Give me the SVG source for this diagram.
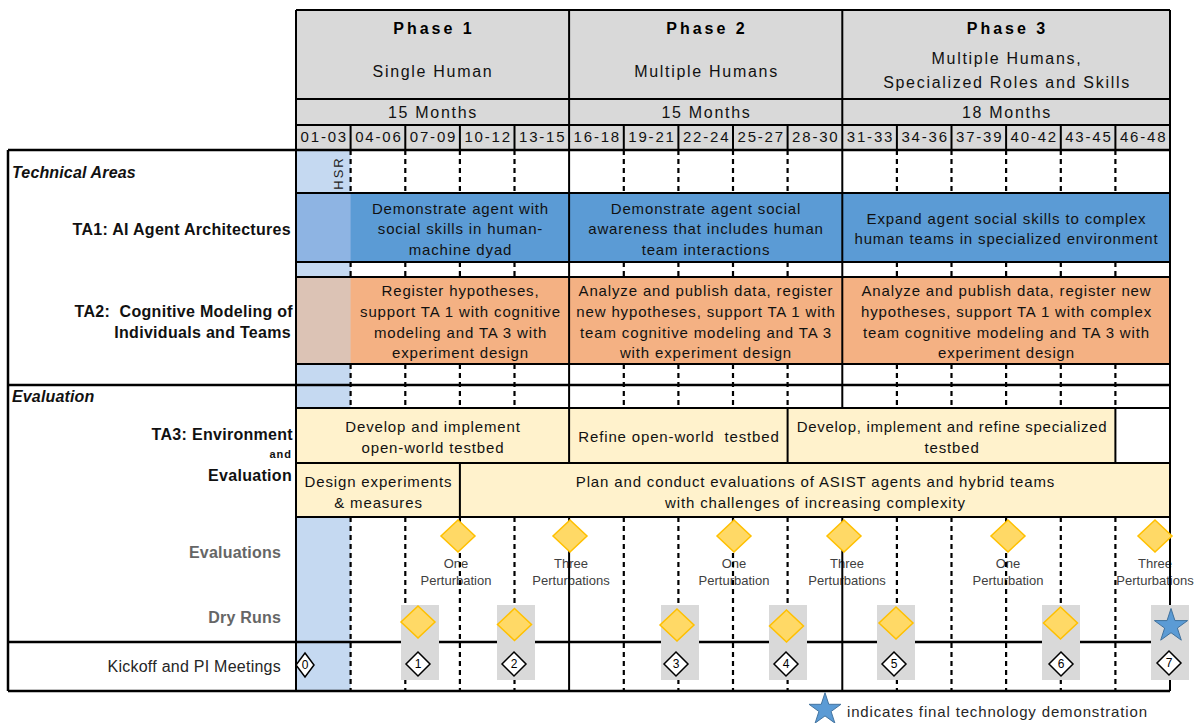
<svg xmlns="http://www.w3.org/2000/svg" width="1203" height="723" viewBox="0 0 1203 723">
<style>
text{font-family:"Liberation Sans",Arial,sans-serif}
.b{font-size:15px;letter-spacing:0.85px;fill:#111;text-anchor:middle}
.ph{font-size:16px;font-weight:bold;letter-spacing:3px;text-anchor:middle;fill:#000}
.sub{font-size:16px;letter-spacing:1.7px;text-anchor:middle;fill:#111}
.per{font-size:15px;letter-spacing:1.8px;text-anchor:middle;fill:#111}
.lab{font-size:16px;font-weight:bold;letter-spacing:0.3px;text-anchor:end;fill:#111}
.sec{font-size:16px;font-weight:bold;font-style:italic;letter-spacing:0.15px;fill:#111}
.gl{font-size:16px;font-weight:bold;letter-spacing:0.2px;text-anchor:end;fill:#666}
.pt{font-size:13px;text-anchor:middle;fill:#404040}
.num{font-size:12px;text-anchor:middle;fill:#000}
.ln{fill:none;stroke:#000;stroke-width:2}
.ds{fill:none;stroke:#000;stroke-width:2.2;stroke-dasharray:5 4}
.lb{fill:#C5D9F1}
.cr{fill:#FFF2CC}
.gr{fill:#D9D9D9}
</style>
<defs>
<polygon id="yd" points="0,-16 17,0 0,16 -17,0" fill="#FFD966" stroke="#FFC000" stroke-width="1.5"/>
<polygon id="wd" points="0,-12 12,0 0,12 -12,0" fill="#fff" stroke="#000" stroke-width="1.5"/>
<polygon id="star" points="0,-17.5 3.93,-5.41 16.64,-5.41 6.36,2.07 10.29,14.16 0,6.69 -10.29,14.16 -6.36,2.07 -16.64,-5.41 -3.93,-5.41" fill="#5B9BD5" stroke="#41719C" stroke-width="1"/>
</defs>
<rect width="1203" height="723" fill="#fff"/>

<g id="header">
<rect class="gr" x="296" y="10" width="874" height="140"/>
<text class="ph" x="434" y="34">Phase 1</text>
<text class="ph" x="707" y="34">Phase 2</text>
<text class="ph" x="1007.5" y="34">Phase 3</text>
<text class="sub" x="433" y="77">Single Human</text>
<text class="sub" x="706.5" y="77">Multiple Humans</text>
<text class="sub" x="1007" y="64">Multiple Humans,</text>
<text class="sub" x="1007" y="88">Specialized Roles and Skills</text>
<text class="sub" x="433" y="118">15 Months</text>
<text class="sub" x="706.5" y="118">15 Months</text>
<text class="sub" x="1007" y="118">18 Months</text>
<text class="per" x="324.3" y="142">01-03</text>
<text class="per" x="378.9" y="142">04-06</text>
<text class="per" x="433.5" y="142">07-09</text>
<text class="per" x="488.1" y="142">10-12</text>
<text class="per" x="542.7" y="142">13-15</text>
<text class="per" x="597.3" y="142">16-18</text>
<text class="per" x="652" y="142">19-21</text>
<text class="per" x="706.6" y="142">22-24</text>
<text class="per" x="761.2" y="142">25-27</text>
<text class="per" x="815.8" y="142">28-30</text>
<text class="per" x="870.5" y="142">31-33</text>
<text class="per" x="925.1" y="142">34-36</text>
<text class="per" x="979.7" y="142">37-39</text>
<text class="per" x="1034.3" y="142">40-42</text>
<text class="per" x="1088.9" y="142">43-45</text>
<text class="per" x="1143.6" y="142">46-48</text>
</g>

<g id="light-blue-column">
<rect class="lb" x="296" y="150" width="54.6" height="43"/>
<rect class="lb" x="296" y="262" width="54.6" height="15"/>
<rect class="lb" x="296" y="364" width="54.6" height="44"/>
<rect class="lb" x="296" y="517" width="54.6" height="174"/>
<text x="343" y="173" transform="rotate(-90 343 173)" style="font-size:13px;letter-spacing:2px;text-anchor:middle;fill:#222">HSR</text>
</g>

<g id="section-labels">
<text class="sec" x="12" y="178">Technical Areas</text>
<text class="sec" x="12" y="402">Evaluation</text>
</g>

<g id="ta1">
<text class="lab" x="291" y="235">TA1: AI Agent Architectures</text>
<rect x="296" y="193" width="874" height="69" fill="#5B9BD5"/>
<rect x="296" y="193" width="54.6" height="69" fill="#8EB4E3"/>
<text class="b" x="460.5" y="214">Demonstrate agent with</text>
<text class="b" x="460.5" y="234">social skills in human-</text>
<text class="b" x="460.5" y="255">machine dyad</text>
<text class="b" x="706" y="214">Demonstrate agent social</text>
<text class="b" x="706" y="234">awareness that includes human</text>
<text class="b" x="706" y="255">team interactions</text>
<text class="b" x="1006.5" y="224">Expand agent social skills to complex</text>
<text class="b" x="1006.5" y="244">human teams in specialized environment</text>
</g>

<g id="ta2">
<text class="lab" x="293" y="317" xml:space="preserve">TA2:  Cognitive Modeling of</text>
<text class="lab" x="291" y="338">Individuals and Teams</text>
<rect x="296" y="277" width="874" height="87" fill="#F4B183"/>
<rect x="296" y="277" width="54.6" height="87" fill="#DCC3B5"/>
<text class="b" x="460.5" y="296">Register hypotheses,</text>
<text class="b" x="460.5" y="317">support TA 1 with cognitive</text>
<text class="b" x="460.5" y="338">modeling and TA 3 with</text>
<text class="b" x="460.5" y="358">experiment design</text>
<text class="b" x="706" y="296">Analyze and publish data, register</text>
<text class="b" x="706" y="317">new hypotheses, support TA 1 with</text>
<text class="b" x="706" y="338">team cognitive modeling and TA 3</text>
<text class="b" x="706" y="358">with experiment design</text>
<text class="b" x="1006.5" y="296">Analyze and publish data, register new</text>
<text class="b" x="1006.5" y="317">hypotheses, support TA 1 with complex</text>
<text class="b" x="1006.5" y="338">team cognitive modeling and TA 3 with</text>
<text class="b" x="1006.5" y="358">experiment design</text>
</g>

<g id="ta3">
<text class="lab" x="293" y="440">TA3: Environment</text>
<text class="lab" x="292" y="458" style="font-size:11px;letter-spacing:1px">and</text>
<text class="lab" x="292" y="481">Evaluation</text>
<rect class="cr" x="296" y="408" width="273.1" height="55"/>
<rect class="cr" x="569.1" y="408" width="218.5" height="55"/>
<rect class="cr" x="787.6" y="408" width="327.8" height="55"/>
<rect class="cr" x="296" y="463" width="163.9" height="54"/>
<rect class="cr" x="459.9" y="463" width="710.1" height="54"/>
<text class="b" x="433" y="432">Develop and implement</text>
<text class="b" x="433" y="453">open-world testbed</text>
<text class="b" x="679" y="442" xml:space="preserve">Refine open-world  testbed</text>
<text class="b" x="952" y="432" style="letter-spacing:0.7px">Develop, implement and refine specialized</text>
<text class="b" x="952" y="453">testbed</text>
<text class="b" x="378.5" y="487">Design experiments</text>
<text class="b" x="378.5" y="508">&amp; measures</text>
<text class="b" x="815.5" y="487">Plan and conduct evaluations of ASIST agents and hybrid teams</text>
<text class="b" x="815.5" y="508">with challenges of increasing complexity</text>
</g>

<g id="row-labels">
<text class="gl" x="281" y="558">Evaluations</text>
<text class="gl" x="281" y="623">Dry Runs</text>
<text class="lab" x="281" y="672" style="font-weight:normal;letter-spacing:0.25px;fill:#262626">Kickoff and PI Meetings</text>
</g>

<g id="evaluation-labels">
<text class="pt" x="456" y="568">One</text>
<text class="pt" x="456" y="585">Perturbation</text>
<text class="pt" x="571" y="568">Three</text>
<text class="pt" x="571" y="585">Perturbations</text>
<text class="pt" x="734" y="568">One</text>
<text class="pt" x="734" y="585">Perturbation</text>
<text class="pt" x="847" y="568">Three</text>
<text class="pt" x="847" y="585">Perturbations</text>
<text class="pt" x="1008" y="568">One</text>
<text class="pt" x="1008" y="585">Perturbation</text>
<text class="pt" x="1155" y="568">Three</text>
<text class="pt" x="1155" y="585">Perturbations</text>
</g>

<g id="connectors">
<path class="ds" d="M350.6 150V193M350.6 262V277M350.6 364V408M350.6 517V691
M405.3 150V193M405.3 262V277M405.3 364V408M405.3 517V691
M459.9 150V193M459.9 262V277M459.9 364V408M459.9 517V691
M514.5 150V193M514.5 262V277M514.5 364V408M514.5 517V691
M623.8 150V193M623.8 262V277M623.8 364V408M623.8 517V691
M678.4 150V193M678.4 262V277M678.4 364V408M678.4 517V691
M733 150V193M733 262V277M733 364V408M733 517V691
M787.6 150V193M787.6 262V277M787.6 364V408M787.6 517V691
M896.9 150V193M896.9 262V277M896.9 364V408M896.9 517V691
M951.5 150V193M951.5 262V277M951.5 364V408M951.5 517V691
M1006.1 150V193M1006.1 262V277M1006.1 364V408M1006.1 517V691
M1060.8 150V193M1060.8 262V277M1060.8 364V408M1060.8 517V691
M1115.4 150V193M1115.4 262V277M1115.4 364V408M1115.4 517V691"/>
<path class="ln" d="M296 10H1170M296 99H1170M296 125H1170
M350.6 125V150M405.3 125V150M459.9 125V150M514.5 125V150M623.8 125V150M678.4 125V150M733 125V150M787.6 125V150M896.9 125V150M951.5 125V150M1006.1 125V150M1060.8 125V150M1115.4 125V150
M296 193H1170M296 262H1170M296 277H1170M296 364H1170M296 408H1170M296 463H1170M296 517H1170
M296 10V691M1170 10V691
M569.1 10V463M569.1 517V691M842.3 10V408M842.3 517V691
M787.6 408V463M1115.4 408V463M459.9 463V517"/>
<path class="ln" style="stroke-width:2.5" d="M8 150H1170M8 385H1170M8 642H1170M8 691H1170M8 150V691"/>
</g>

<g id="evaluations">
<use href="#yd" x="458" y="536"/>
<use href="#yd" x="570" y="536"/>
<use href="#yd" x="734" y="536"/>
<use href="#yd" x="844" y="536"/>
<use href="#yd" x="1008" y="536"/>
<use href="#yd" x="1155" y="536"/>
</g>

<g id="dry-runs">
<rect class="gr" x="401" y="605" width="38" height="75"/>
<rect class="gr" x="497" y="605" width="38" height="75"/>
<rect class="gr" x="661" y="605" width="38" height="75"/>
<rect class="gr" x="769" y="605" width="38" height="75"/>
<rect class="gr" x="877" y="605" width="38" height="75"/>
<rect class="gr" x="1042" y="605" width="38" height="75"/>
<rect class="gr" x="1151" y="605" width="38" height="75"/>
<use href="#yd" x="418" y="622"/>
<use href="#yd" x="514.5" y="624.5"/>
<use href="#yd" x="677" y="625"/>
<use href="#yd" x="786.5" y="626"/>
<use href="#yd" x="896" y="623"/>
<use href="#yd" x="1060.5" y="623"/>
<use href="#star" x="1171" y="626"/>
</g>

<g id="meetings">
<polygon points="305,653 314,665 305,677 296,665" fill="#fff" stroke="#000" stroke-width="1.5"/>
<text class="num" x="305" y="669">0</text>
<use href="#wd" x="418" y="664"/><text class="num" x="418" y="668">1</text>
<use href="#wd" x="514" y="664"/><text class="num" x="514" y="668">2</text>
<use href="#wd" x="676" y="664"/><text class="num" x="676" y="668">3</text>
<use href="#wd" x="786" y="664"/><text class="num" x="786" y="668">4</text>
<use href="#wd" x="894" y="664"/><text class="num" x="894" y="668">5</text>
<use href="#wd" x="1061" y="664"/><text class="num" x="1061" y="668">6</text>
<use href="#wd" x="1169" y="663"/><text class="num" x="1169" y="667">7</text>
</g>

<g id="legend">
<use href="#star" transform="translate(825 709.5) scale(0.96)"/>
<text x="847" y="717" style="font-size:15px;letter-spacing:0.85px;fill:#262626">indicates final technology demonstration</text>
</g>
</svg>
